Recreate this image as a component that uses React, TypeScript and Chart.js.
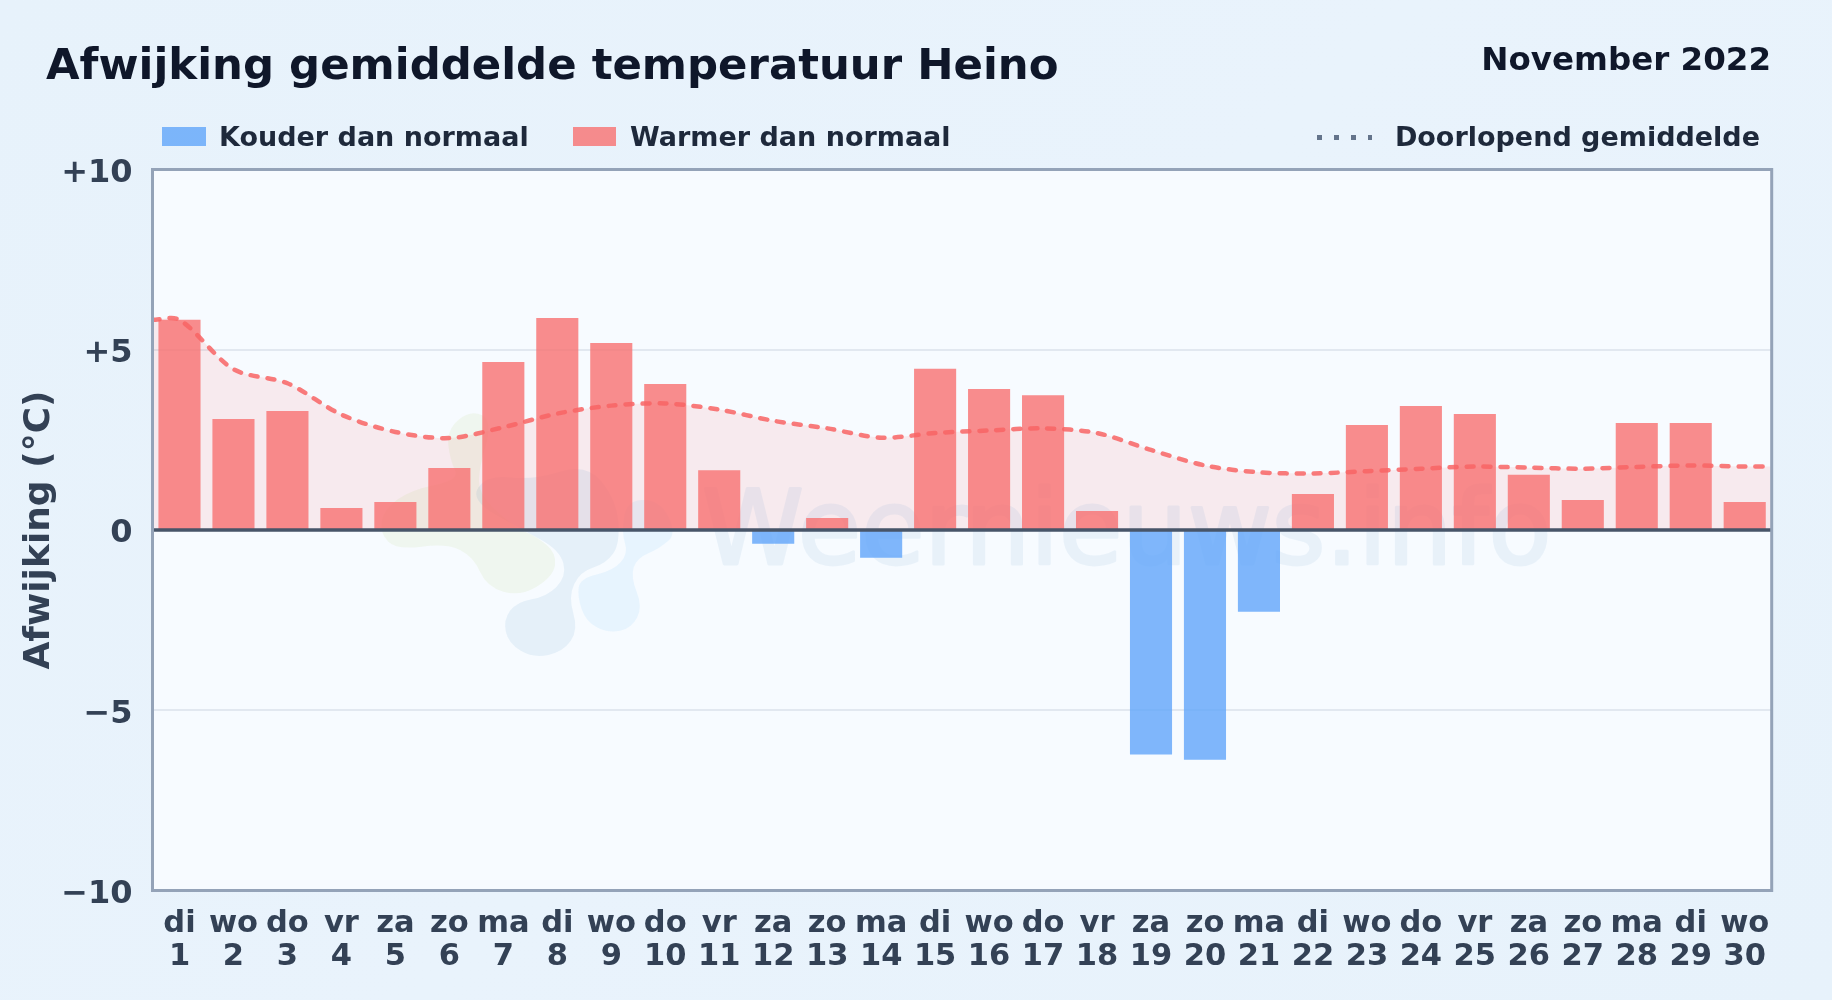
import React, { useEffect, useRef } from "react";
import { Chart, registerables } from "chart.js";

Chart.register(...registerables);

const FONT = '"DejaVu Sans", sans-serif';

const weekdays = ["di","wo","do","vr","za","zo","ma","di","wo","do","vr","za","zo","ma","di","wo","do","vr","za","zo","ma","di","wo","do","vr","za","zo","ma","di","wo"];
const days = ["1","2","3","4","5","6","7","8","9","10","11","12","13","14","15","16","17","18","19","20","21","22","23","24","25","26","27","28","29","30"];
const deviation = [5.83,3.08,3.30,0.61,0.78,1.72,4.66,5.88,5.19,4.05,1.66,-0.38,0.33,-0.77,4.47,3.91,3.74,0.53,-6.23,-6.37,-2.27,1.0,2.91,3.44,3.22,1.53,0.83,2.97,2.97,0.78];
const runningMean = [5.83,4.46,4.07,3.2,2.72,2.55,2.85,3.23,3.45,3.51,3.34,3.03,2.82,2.56,2.69,2.76,2.82,2.69,2.22,1.79,1.6,1.57,1.63,1.7,1.76,1.73,1.70,1.75,1.79,1.76];
const yTicks = [-10,-5,0,5,10];

const COLD = "rgba(96,165,250,0.8)";
const WARM = "rgba(248,113,113,0.8)";

const plotDecor = {
  id: "plotDecor",
  beforeDraw(chart: any) {
    const { ctx, chartArea: a } = chart;
    ctx.save();
    ctx.fillStyle = "#f7fbff";
    ctx.fillRect(a.left, a.top, a.right - a.left, a.bottom - a.top);
    ctx.restore();
  },
  beforeDatasetsDraw(chart: any) {
    const { ctx } = chart;
    ctx.save();
    const blob = (c: string, raw: number[][]) => {
      const pts = raw.map(([x, y]) => [360 + x / 3, 400 + y / 3]);
      ctx.fillStyle = c;
      ctx.beginPath();
      const last = pts[pts.length - 1];
      ctx.moveTo((last[0] + pts[0][0]) / 2, (last[1] + pts[0][1]) / 2);
      for (let i = 0; i < pts.length; i++) {
        const p = pts[i], n = pts[(i + 1) % pts.length];
        ctx.quadraticCurveTo(p[0], p[1], (p[0] + n[0]) / 2, (p[1] + n[1]) / 2);
      }
      ctx.closePath();
      ctx.fill();
    };
    blob("rgba(180,210,100,0.1)", [[60,400],[110,450],[260,430],[340,470],[380,560],[480,590],[580,530],[590,460],[530,410],[470,385],[370,300],[350,230],[400,60],[330,30],[260,90],[270,180],[300,240],[150,270],[70,330]]);
    blob("rgba(60,130,190,0.09)", [[430,660],[470,605],[560,590],[620,530],[600,450],[480,385],[330,300],[380,225],[520,240],[680,190],[770,300],[780,430],[740,490],[660,515],[625,590],[655,690],[610,755],[520,775],[445,730]]);
    blob("rgba(100,190,250,0.1)", [[652,590],[660,535],[760,512],[805,460],[785,400],[800,300],[900,300],[950,400],[900,445],[830,475],[812,530],[848,620],[815,685],[745,700],[678,665]]);

    const off = document.createElement("canvas");
    off.width = chart.width;
    off.height = chart.height;
    const o = off.getContext("2d") as CanvasRenderingContext2D;
    o.font = "103px " + FONT;
    o.fillStyle = "rgb(60,130,190)";
    o.strokeStyle = "rgb(60,130,190)";
    o.lineWidth = 3;
    o.lineJoin = "round";
    o.textBaseline = "alphabetic";
    o.textAlign = "left";
    o.fillText("Weernieuws.info", 702, 564);
    o.strokeText("Weernieuws.info", 702, 564);
    ctx.globalAlpha = 0.075;
    ctx.drawImage(off, 0, 0);
    ctx.restore();
  },
  afterDraw(chart: any) {
    const { ctx, chartArea: a, scales } = chart;
    ctx.save();
    const z = scales.y.getPixelForValue(0);
    ctx.strokeStyle = "#475569";
    ctx.lineWidth = 3.5;
    ctx.beginPath();
    ctx.moveTo(a.left, z);
    ctx.lineTo(a.right, z);
    ctx.stroke();
    ctx.strokeStyle = "#94a3b8";
    ctx.lineWidth = 3;
    ctx.strokeRect(a.left, a.top, a.right - a.left, a.bottom - a.top);
    ctx.restore();
  },
};

const textStyle = (size: number, color: string): React.CSSProperties => ({
  position: "absolute",
  fontFamily: FONT,
  fontWeight: 700,
  fontSize: size,
  color,
  lineHeight: 1,
  whiteSpace: "nowrap",
});

export default function App() {
  const ref = useRef<HTMLCanvasElement>(null);
  useEffect(() => {
    const linePoints = [
      { x: 0.5, y: runningMean[0] },
      ...runningMean.map((y, i) => ({ x: i + 1, y })),
      { x: 30.5, y: runningMean[runningMean.length - 1] },
    ];
    const chart = new Chart(ref.current as HTMLCanvasElement, {
      data: {
        datasets: [
          {
            type: "line",
            label: "Doorlopend gemiddelde",
            data: linePoints,
            borderColor: "rgba(248,100,100,0.85)",
            backgroundColor: "rgba(248,113,113,0.12)",
            borderWidth: 4.5,
            borderDash: [7, 10],
            borderCapStyle: "round",
            pointRadius: 0,
            tension: 0.3,
            fill: "origin",
            order: 1,
          },
          {
            type: "bar",
            label: "Afwijking",
            data: deviation.map((y, i) => ({ x: i + 1, y })),
            backgroundColor: deviation.map((v) => (v < 0 ? COLD : WARM)),
            barPercentage: 0.78,
            categoryPercentage: 1,
            order: 2,
          },
        ],
      } as any,
      options: {
        animation: false,
        responsive: false,
        devicePixelRatio: 1,
        layout: { padding: { left: 18, top: 169.5, right: 60.3, bottom: 0 } },
        plugins: {
          legend: { display: false },
          tooltip: { enabled: false },
          filler: { drawTime: "beforeDatasetsDraw" },
        },
        scales: {
          x: {
            type: "linear",
            min: 0.5,
            max: 30.5,
            offset: false,
            grid: { display: false, offset: false },
            border: { display: false },
            afterBuildTicks(s: any) { s.ticks = days.map((_, i) => ({ value: i + 1 })); },
            ticks: {
              autoSkip: false,
              maxRotation: 0,
              minRotation: 0,
              padding: 9,
              color: "#334155",
              font: { family: FONT, weight: "bold", size: 30.5, lineHeight: 1.09 },
              callback: (v: any) => [weekdays[v - 1], days[v - 1]],
            },
            afterFit(s: any) { s.height = 109.5; },
          },
          y: {
            min: -10,
            max: 10,
            afterBuildTicks(s: any) { s.ticks = yTicks.map((value) => ({ value })); },
            afterFit(s: any) { s.width = 134.5; },
            grid: { color: "#e2e8f0", lineWidth: 2, drawTicks: false },
            border: { display: false },
            title: {
              display: true,
              text: "Afwijking (°C)",
              color: "#334155",
              font: { family: FONT, weight: "bold", size: 36, lineHeight: 1.2 },
              padding: 0,
            },
            ticks: {
              padding: 20,
              labelOffset: 4,
              color: "#334155",
              font: { family: FONT, weight: "bold", size: 32 },
              callback: (v: any) => (v > 0 ? "+" + v : v < 0 ? "\u2212" + Math.abs(v) : "0"),
            },
          },
        },
      } as any,
      plugins: [plotDecor],
    });
    return () => chart.destroy();
  }, []);

  return (
    <div style={{ position: "fixed", left: 0, top: 0, width: 1832, height: 1000, overflow: "hidden", background: "linear-gradient(135deg,#e7f2fb,#e9f3fc 50%,#e7f2fb)" }}>
      <canvas ref={ref} width={1832} height={1000} style={{ position: "absolute", left: 0, top: 0, width: 1832, height: 1000 }} />
      <div style={{ ...textStyle(43.4, "#0f172a"), left: 46, top: 43 }}>Afwijking gemiddelde temperatuur Heino</div>
      <div style={{ ...textStyle(32.5, "#0f172a"), right: 61, top: 43 }}>November 2022</div>
      <div style={{ position: "absolute", left: 162, top: 127, width: 44, height: 19, background: COLD }} />
      <div style={{ ...textStyle(27, "#1e293b"), left: 219, top: 122.5 }}>Kouder dan normaal</div>
      <div style={{ position: "absolute", left: 573, top: 127, width: 43, height: 19, background: WARM }} />
      <div style={{ ...textStyle(27, "#1e293b"), left: 630, top: 122.5 }}>Warmer dan normaal</div>
      <div style={{ position: "absolute", left: 1317, top: 135, width: 55, height: 5, backgroundImage: "repeating-linear-gradient(90deg,#64748b 0 5px,transparent 5px 17px)" }} />
      <div style={{ ...textStyle(27, "#1e293b"), right: 72, top: 122.5 }}>Doorlopend gemiddelde</div>
    </div>
  );
}
